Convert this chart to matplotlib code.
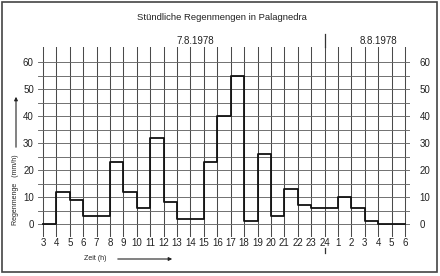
import matplotlib.pyplot as plt
import numpy as np
from matplotlib.patches import Rectangle, FancyArrowPatch

plt.rcParams['font.family'] = ['Liberation Sans', 'DejaVu Sans']

# Stundenbeschriftung (3 Uhr am 7.8. bis 6 Uhr am 8.8.)
stunden = ["3", "4", "5", "6", "7", "8", "9", "10", "11", "12", "13", "14", "15",
           "16", "17", "18", "19", "20", "21", "22", "23", "24",
           "1", "2", "3", "4", "5", "6"]
# Regenmenge je Stunde (mm/h), Intervall von Stunde i bis i+1
regen = [0, 12, 9, 3, 3, 23, 12, 6, 32, 8, 2, 2, 23, 40, 55, 1, 26, 3, 13, 7, 6,
         6, 10, 6, 1, 0, 0]
y_ticks = [0, 10, 20, 30, 40, 50, 60]

W, H = 440, 276
fig = plt.figure(figsize=(W / 100, H / 100), dpi=100)
ax = fig.add_axes([38 / W, 1 - 237 / H, 372 / W, 190 / H])

x = np.arange(len(stunden))
ymin, ymax = -4.81, 65.56
ax.set_xlim(-0.37, len(stunden) - 1 + 0.37)
ax.set_ylim(ymin, ymax)

for xi in x:
    ax.plot([xi, xi], [ymin, ymax], color="#4a4a4a", lw=0.75, zorder=1)
for yi in range(0, 61, 5):
    ax.plot([-0.37, len(stunden) - 1 + 0.37], [yi, yi], color="#666666", lw=0.65, zorder=1)

# Tageswechsel bei 24 Uhr
i24 = stunden.index("24")
ax.plot([i24, i24], [ymax, ymax + 4.8], color="#333333", lw=0.9, clip_on=False)
ax.plot([i24, i24], [-8.9, -10.8], color="#333333", lw=0.9, clip_on=False)

ax.step(x, regen + [regen[-1]], where="post", color="#111111", lw=1.3, zorder=3)

for s in ax.spines.values():
    s.set_visible(False)
ax.set_xticks(x)
ax.set_xticklabels(stunden, fontsize=7, color="#222222")
ax.set_yticks(y_ticks)
ax.set_yticklabels([str(v) for v in y_ticks], fontsize=7, color="#222222")
ax.tick_params(axis="x", length=0, pad=1)
ax.tick_params(axis="y", length=0, pad=3)

ax2 = ax.twinx()
ax2.set_ylim(ymin, ymax)
ax2.set_yticks(y_ticks)
ax2.set_yticklabels([str(v) for v in y_ticks], fontsize=7, color="#222222")
ax2.tick_params(axis="y", length=0, pad=7)
for s in ax2.spines.values():
    s.set_visible(False)

fig.text(222 / W, 1 - 18 / H, "Stündliche Regenmengen in Palagnedra",
         ha="center", va="center", fontsize=6.8, color="#222222")
fig.text(195 / W, 1 - 41 / H, "7.8.1978", ha="center", va="center",
         fontsize=7, color="#222222")
fig.text(378 / W, 1 - 41 / H, "8.8.1978", ha="center", va="center",
         fontsize=7, color="#222222")

fig.text(16 / W, 1 - 190 / H, "Regenmenge   (mm/h)", rotation=90,
         ha="center", va="center", fontsize=5, color="#222222")
fig.patches.append(FancyArrowPatch(
    (16 / W, 1 - 150 / H), (16 / W, 1 - 94 / H), transform=fig.transFigure,
    arrowstyle="-|>", mutation_scale=5, lw=0.8, color="#222222"))

fig.text(95 / W, 1 - 259 / H, "Zeit (h)", ha="center", va="center",
         fontsize=5, color="#222222")
fig.patches.append(FancyArrowPatch(
    (115 / W, 1 - 259 / H), (175 / W, 1 - 259 / H), transform=fig.transFigure,
    arrowstyle="-|>", mutation_scale=5, lw=0.8, color="#222222"))

fig.patches.append(Rectangle((2 / W, 1 - 272 / H), 435 / W, 270 / H,
                             transform=fig.transFigure, fill=False,
                             edgecolor="#444444", lw=1.2))

fig.savefig("out.png", dpi=100)
